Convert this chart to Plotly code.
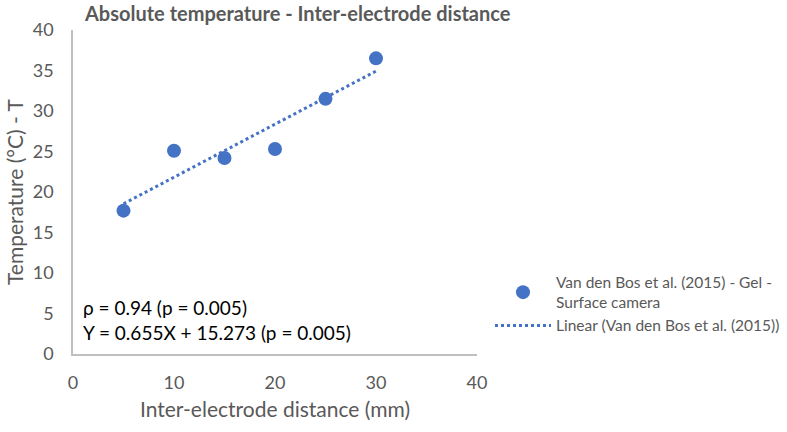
import plotly.graph_objects as go

distance_mm = [5, 10, 15, 20, 25, 30]
temperature_c = [17.7, 25.1, 24.2, 25.3, 31.5, 36.5]
slope = 0.655
intercept = 15.273
x_ticks = [0, 10, 20, 30, 40]
y_ticks = [0, 5, 10, 15, 20, 25, 30, 35, 40]

blue = "#4472C4"
gray_text = "#595959"
font_family = "Lato, Open Sans, sans-serif"

trend_x = [min(distance_mm), max(distance_mm)]
trend_y = [slope * v + intercept for v in trend_x]

fig = go.Figure()
fig.add_trace(go.Scatter(
    x=distance_mm, y=temperature_c, mode="markers",
    marker=dict(color=blue, size=14),
    name="Van den Bos et al. (2015) - Gel -<br>Surface camera",
))
fig.add_trace(go.Scatter(
    x=trend_x, y=trend_y, mode="lines",
    line=dict(color=blue, width=3, dash="dot"),
    name="Linear (Van den Bos et al. (2015))",
))

fig.add_annotation(
    x=0.02, y=0.185, xref="paper", yref="paper", xanchor="left", yanchor="top",
    text="ρ = 0.94 (p = 0.005)<br>Y = 0.655X + 15.273 (p = 0.005)",
    showarrow=False, align="left",
    font=dict(size=19, color="#000000", family=font_family),
)
fig.add_annotation(
    x=-0.146, y=0.5, xref="paper", yref="paper", xanchor="center", yanchor="middle",
    text="Temperature (°C) - T", textangle=-90, showarrow=False,
    font=dict(size=21, color=gray_text, family=font_family),
)

fig.update_layout(
    width=787, height=432,
    margin=dict(l=73, r=310, t=30, b=78, autoexpand=False),
    paper_bgcolor="white", plot_bgcolor="white",
    font=dict(family=font_family, color=gray_text),
    title=dict(
        text="<b>Absolute temperature - Inter-electrode distance</b>",
        x=85 / 787, xanchor="left", y=1 - 14 / 432, yanchor="middle",
        font=dict(size=20, color=gray_text),
    ),
    xaxis=dict(
        range=[0, 40], tickvals=x_ticks, showgrid=False, zeroline=False,
        showline=True, linecolor="#BFBFBF", linewidth=1.5,
        ticks="", tickfont=dict(size=18, color=gray_text), ticklabelstandoff=12,
        title=dict(text="Inter-electrode distance (mm)", font=dict(size=21, color=gray_text), standoff=10),
    ),
    yaxis=dict(
        range=[0, 40], tickvals=y_ticks, showgrid=False, zeroline=False,
        showline=True, linecolor="#BFBFBF", linewidth=1.5,
        ticks="", tickfont=dict(size=18, color=gray_text), ticklabelstandoff=14,
    ),
    legend=dict(
        xref="container", yref="container",
        x=490 / 787, y=1 - 265.5 / 432, xanchor="left", yanchor="top",
        font=dict(size=15.5, color=gray_text), bgcolor="rgba(0,0,0,0)",
        itemwidth=56, tracegroupgap=12,
    ),
    showlegend=True,
)

fig.write_html(
    "out.html",
    config={"displayModeBar": False},
    post_script="document.body.style.margin='0px';",
)
